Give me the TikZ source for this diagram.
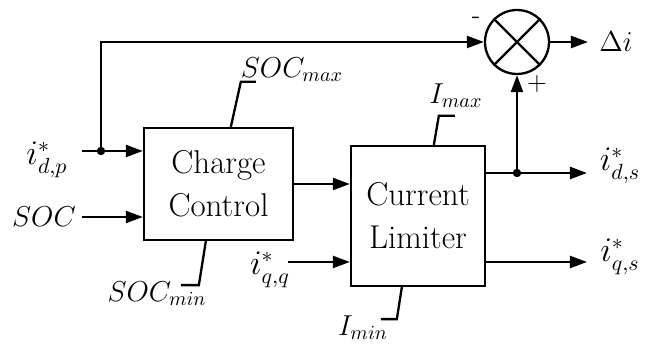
\documentclass[tikz,border=0pt]{standalone}
\usetikzlibrary{arrows.meta,shapes.geometric}
\begin{document}
\begin{tikzpicture}[x=0.5pt,y=-0.5pt, line width=1.15pt,
  >={Triangle[length=8.5pt,width=6pt]},
  blk/.style={draw, rectangle, inner sep=0pt, align=center, font=\fontsize{16.5}{21.5}\selectfont},
  lbl/.style={inner sep=0pt, font=\fontsize{14.5}{18}\selectfont},
  ilbl/.style={inner sep=0pt, font=\fontsize{16}{19}\selectfont},
  Ilbl/.style={inner sep=0pt, font=\fontsize{14}{16}\selectfont},
  sgn/.style={inner sep=0pt, font=\fontsize{13}{15}\selectfont},
  sumc/.style={draw, circle, minimum size=32pt, inner sep=0pt},
  dot/.style={circle, fill, inner sep=0pt, minimum size=4.2pt}]
\useasboundingbox (0,0) rectangle (645,346);

% blocks
\node[blk, minimum width=74.5pt, minimum height=56pt] (cc) at (218.5,184) {Charge\\Control};
\node[blk, minimum width=67pt, minimum height=70pt] (cl) at (418,216) {Current\\Limiter};
\node[sumc] (sum) at (517,42) {};
\draw (sum.north west) -- (sum.south east);
\draw (sum.north east) -- (sum.south west);

% labels
\node[ilbl] (idp) at (47,160) {$i^*_{d,p}$};
\node[lbl] (soc) at (44,217) {$SOC$};
\node[lbl] (smax) at (292,70) {$SOC_{max}$};
\node[lbl] (smin) at (157,294) {$SOC_{min}$};
\node[ilbl] (iqq) at (270,270) {$i^*_{q,q}$};
\node[Ilbl] (imax) at (456,96) {$I_{max}$};
\node[Ilbl] (imin) at (363,328) {$I_{min}$};
\node[ilbl] (ids) at (620,166) {$i^*_{d,s}$};
\node[ilbl] (iqs) at (620,257) {$i^*_{q,s}$};
\node[lbl] (di) at (616,42) {$\Delta i$};
\node[sgn] (minus) at (476,20) {-};
\node[sgn] (plus) at (537,84) {+};

% coordinates
\coordinate (idpS) at (82,151);
\coordinate (j1) at (101,151);
\coordinate (socS) at (82,217);
\coordinate (iqqS) at (288,262);
\coordinate (j2) at (517,173);
\coordinate (odsE) at (587,173);
\coordinate (oqsE) at (587,262);
\coordinate (diE) at (588,42);

% connectors
\draw[->] (idpS) -- (idpS -| cc.west);
\draw[->] (j1) |- (sum.west);
\draw[->] (socS) -- (socS -| cc.west);
\draw[->] (cc.east) -- (cc.east -| cl.west);
\draw[->] (iqqS) -- (iqqS -| cl.west);
\draw[->] (odsE -| cl.east) -- (odsE);
\draw[->] (oqsE -| cl.east) -- (oqsE);
\draw[->] (j2) -- (sum.south);
\draw[->] (sum.east) -- (diE);
\node[dot] at (j1) {};
\node[dot] at (j2) {};

% leaders
\draw (cc.north west) ++(88,0) -- ++(10,-45) -- ++(15,0);
\draw (cc.south west) ++(63,0) -- ++(-7,44) -- ++(-18,0);
\draw (cl.north west) ++(84,0) -- ++(5,-29) -- ++(16,0);
\draw (cl.south west) ++(52,0) -- ++(-5,32) -- ++(-16,0);
\end{tikzpicture}
\end{document}
